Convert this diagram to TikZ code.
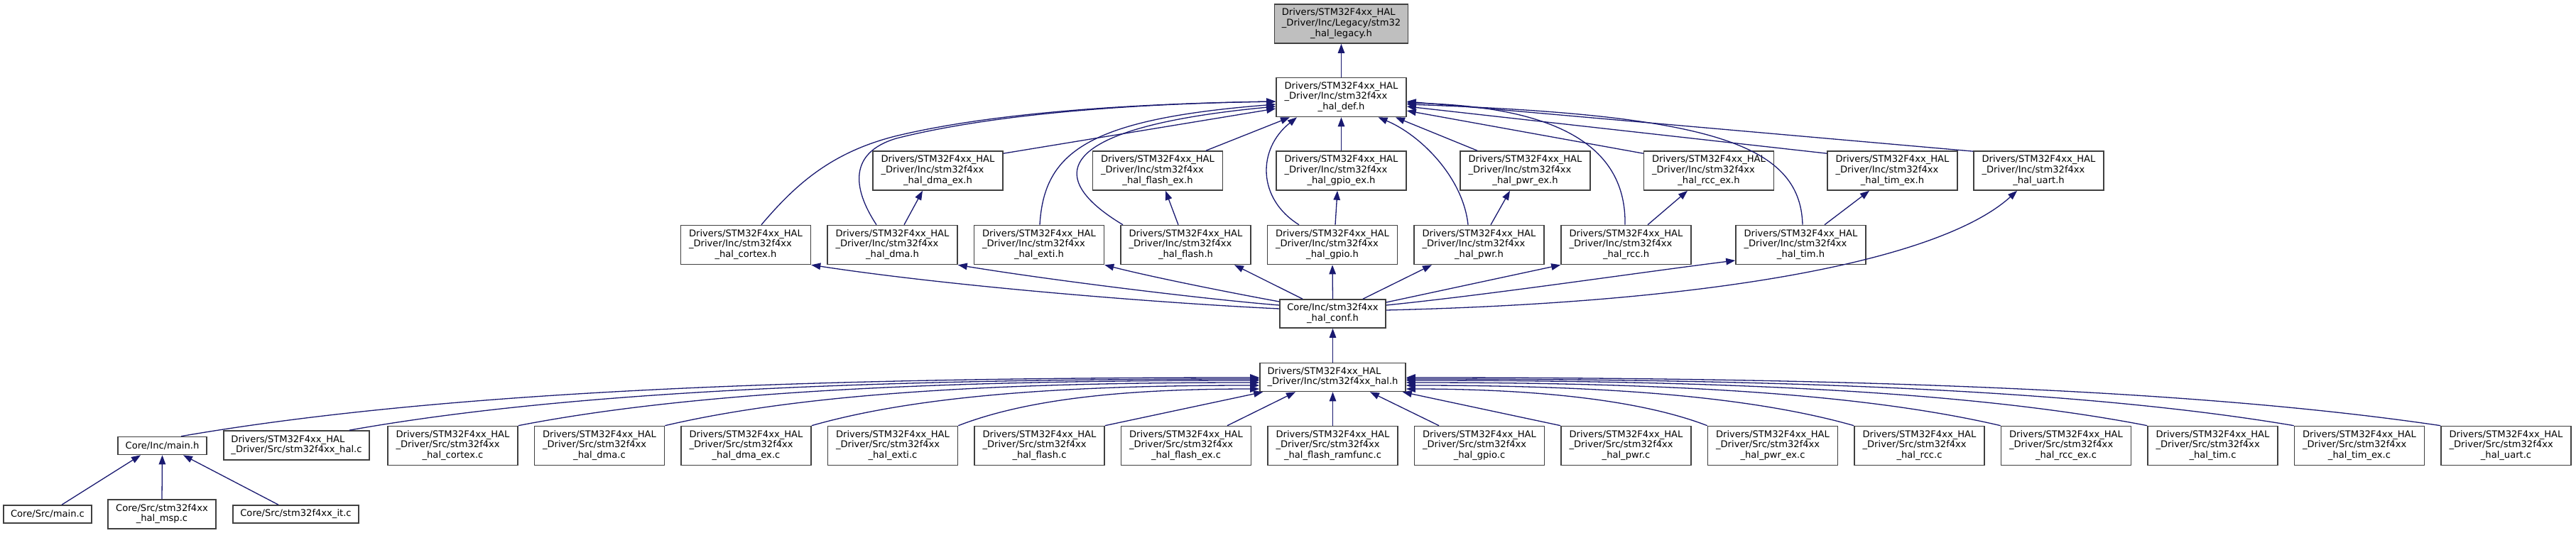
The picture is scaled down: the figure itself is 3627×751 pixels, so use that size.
\documentclass[tikz,border=0pt]{standalone}
\usepackage{fontspec}
\setmainfont{DejaVu Sans}
\usetikzlibrary{arrows.meta,calc}
\definecolor{edgeblue}{HTML}{191970}
\definecolor{curgray}{HTML}{BFBFBF}
\newcommand{\LblTwo}[2]{\begin{tabular}{@{}l@{}}#1\\\multicolumn{1}{@{}c@{}}{#2}\end{tabular}}
\newcommand{\LblThree}[3]{\begin{tabular}{@{}l@{}}#1\\#2\\\multicolumn{1}{@{}c@{}}{#3}\end{tabular}}
\newcommand{\IncLbl}[1]{\LblThree{Drivers/STM32F4xx\_HAL}{\_Driver/Inc/stm32f4xx}{#1}}
\newcommand{\SrcLbl}[1]{\LblThree{Drivers/STM32F4xx\_HAL}{\_Driver/Src/stm32f4xx}{#1}}
\begin{document}
\begin{tikzpicture}[x=1pt,y=-1pt,
  box/.style={draw=black!75, line width=1.6pt, fill=white, inner sep=0pt,
    minimum width=183pt, minimum height=55pt,
    font=\fontsize{13.1}{14.7}\selectfont},
  edge/.style={draw=edgeblue, line width=1.3pt, -{Triangle[length=13pt,width=9.5pt]}}]
\useasboundingbox (0,0) rectangle (3627,751);
% row 0/1
\node[box, fill=curgray, minimum width=188pt] (legacy) at (1888.5,33.5) {\LblThree{Drivers/STM32F4xx\_HAL}{\_Driver/Inc/Legacy/stm32}{\_hal\_legacy.h}};
\node[box] (haldef) at (1888.5,137) {\IncLbl{\_hal\_def.h}};
% row 2
\node[box] (dmaex) at (1320.5,240.5) {\IncLbl{\_hal\_dma\_ex.h}};
\node[box] (flashex) at (1630,240.5) {\IncLbl{\_hal\_flash\_ex.h}};
\node[box] (gpioex) at (1888.5,240.5) {\IncLbl{\_hal\_gpio\_ex.h}};
\node[box] (pwrex) at (2147.5,240.5) {\IncLbl{\_hal\_pwr\_ex.h}};
\node[box] (rccex) at (2406,240.5) {\IncLbl{\_hal\_rcc\_ex.h}};
\node[box] (timex) at (2664.5,240.5) {\IncLbl{\_hal\_tim\_ex.h}};
\node[box] (uarth) at (2870.5,240.5) {\IncLbl{\_hal\_uart.h}};
% row 3
\node[box] (cortexh) at (1050,345) {\IncLbl{\_hal\_cortex.h}};
\node[box] (dmah) at (1256.5,345) {\IncLbl{\_hal\_dma.h}};
\node[box] (extih) at (1463,345) {\IncLbl{\_hal\_exti.h}};
\node[box] (flashh) at (1669.5,345) {\IncLbl{\_hal\_flash.h}};
\node[box] (gpioh) at (1876,345) {\IncLbl{\_hal\_gpio.h}};
\node[box] (pwrh) at (2082.5,345) {\IncLbl{\_hal\_pwr.h}};
\node[box] (rcch) at (2289.5,345) {\IncLbl{\_hal\_rcc.h}};
\node[box] (timh) at (2535.5,345) {\IncLbl{\_hal\_tim.h}};
% conf / hal
\node[box, minimum width=149pt, minimum height=40pt] (confh) at (1876.5,442) {\LblTwo{Core/Inc/stm32f4xx}{\_hal\_conf.h}};
\node[box, minimum width=205pt, minimum height=40pt] (halh) at (1876.5,531.5) {\LblTwo{Drivers/STM32F4xx\_HAL}{\_Driver/Inc/stm32f4xx\_hal.h}};
% leaves
\node[box, minimum width=125pt, minimum height=25pt] (mainh) at (228.5,628) {Core/Inc/main.h};
\node[box, minimum width=205pt, minimum height=41pt] (halc) at (417.5,627.5) {\LblTwo{Drivers/STM32F4xx\_HAL}{\_Driver/Src/stm32f4xx\_hal.c}};
\node[box] (cortexc) at (637.5,628) {\SrcLbl{\_hal\_cortex.c}};
\node[box] (dmac) at (844,628) {\SrcLbl{\_hal\_dma.c}};
\node[box] (dmaexc) at (1050.5,628) {\SrcLbl{\_hal\_dma\_ex.c}};
\node[box] (extic) at (1257,628) {\SrcLbl{\_hal\_exti.c}};
\node[box] (flashc) at (1463.5,628) {\SrcLbl{\_hal\_flash.c}};
\node[box] (flashexc) at (1670,628) {\SrcLbl{\_hal\_flash\_ex.c}};
\node[box] (ramfuncc) at (1876.5,628) {\SrcLbl{\_hal\_flash\_ramfunc.c}};
\node[box] (gpioc) at (2083,628) {\SrcLbl{\_hal\_gpio.c}};
\node[box] (pwrc) at (2289.5,628) {\SrcLbl{\_hal\_pwr.c}};
\node[box] (pwrexc) at (2496,628) {\SrcLbl{\_hal\_pwr\_ex.c}};
\node[box] (rccc) at (2702.5,628) {\SrcLbl{\_hal\_rcc.c}};
\node[box] (rccexc) at (2909,628) {\SrcLbl{\_hal\_rcc\_ex.c}};
\node[box] (timc) at (3115.5,628) {\SrcLbl{\_hal\_tim.c}};
\node[box] (timexc) at (3322,628) {\SrcLbl{\_hal\_tim\_ex.c}};
\node[box] (uartc) at (3528.5,628) {\SrcLbl{\_hal\_uart.c}};
% bottom row
\node[box, minimum width=124pt, minimum height=25pt] (mainc) at (67,724.5) {Core/Src/main.c};
\node[box, minimum width=152pt, minimum height=41pt] (mspc) at (228,724.5) {\LblTwo{Core/Src/stm32f4xx}{\_hal\_msp.c}};
\node[box, minimum width=177pt, minimum height=25pt] (itc) at (416.5,724.5) {Core/Src/stm32f4xx\_it.c};

% edges to legacy / hal_def
\draw[edge] (haldef.north) -- (legacy.south);
\draw[edge] ([yshift=-4pt]dmaex.north east) -- ([yshift=-16pt]haldef.west);
\draw[edge] ([xshift=68pt]flashex.north) -- ([xshift=-72.5pt]haldef.south);
\draw[edge] (gpioex.north) -- (haldef.south);
\draw[edge] ([xshift=-67.5pt]pwrex.north) -- ([xshift=76.5pt]haldef.south);
\draw[edge] ([yshift=-4pt]rccex.north west) -- ([yshift=-19pt]haldef.east);
\draw[edge] ([yshift=-4pt]timex.north west) -- ([yshift=-13pt]haldef.east);
\draw[edge] ([yshift=-1pt]uarth.north west) -- ([yshift=-6pt]haldef.east);
\draw[edge] ([xshift=22pt]cortexh.north) .. controls (1120,260) and (1170,215) .. (1260,192) .. controls (1400,158) and (1600,146) .. ([yshift=-6pt]haldef.west);
\draw[edge] ([xshift=-22.5pt]dmah.north) .. controls (1200,265) and (1195,215) .. (1262,195) .. controls (1400,160) and (1600,146) .. ([yshift=-6pt]haldef.west);
\draw[edge] ([xshift=1pt]extih.north) .. controls (1470,215) and (1530,168) .. ([yshift=-10pt]haldef.west);
\draw[edge] ([xshift=-88.5pt]flashh.north) .. controls (1470,250) and (1480,180) .. ([yshift=-13pt]haldef.west);
\draw[edge] ([xshift=-47pt]gpioh.north) .. controls (1770,280) and (1770,210) .. ([xshift=-62.5pt]haldef.south);
\draw[edge] ([xshift=-15.5pt]pwrh.north) .. controls (2060,250) and (2000,190) .. ([xshift=52pt]haldef.south);
\draw[edge] ([xshift=-1.5pt]rcch.north) .. controls (2290,210) and (2200,150) .. ([yshift=-8pt]haldef.east);
\draw[edge] ([xshift=2.5pt]timh.north) .. controls (2535,200) and (2400,162) .. ([yshift=-10pt]haldef.east);
% row 3 -> row 2
\draw[edge] ([xshift=16.5pt]dmah.north) -- ([xshift=-21.5pt]dmaex.south);
\draw[edge] ([xshift=-10.5pt]flashh.north) -- ([xshift=11pt]flashex.south);
\draw[edge] ([xshift=4pt]gpioh.north) -- ([xshift=-5.5pt]gpioex.south);
\draw[edge] ([xshift=16.5pt]pwrh.north) -- ([xshift=-21.5pt]pwrex.south);
\draw[edge] ([xshift=30.5pt]rcch.north) -- ([xshift=-30pt]rccex.south);
\draw[edge] ([xshift=33.5pt]timh.north) -- ([xshift=-32.5pt]timex.south);
% conf -> headers
\draw[edge] ([yshift=7pt]confh.west) .. controls (1650,428) and (1350,405) .. (cortexh.south east);
\draw[edge] ([yshift=12pt]confh.west) .. controls (1700,422) and (1480,395) .. (dmah.south east);
\draw[edge] ([yshift=17pt]confh.west) .. controls (1730,412) and (1620,390) .. (extih.south east);
\draw[edge] ([xshift=-42.5pt]confh.north) -- ([xshift=68.5pt]flashh.south);
\draw[edge] (confh.north) -- (gpioh.south);
\draw[edge] ([xshift=42.5pt]confh.north) -- ([xshift=-66.5pt]pwrh.south);
\draw[edge] ([yshift=16pt]confh.east) -- (rcch.south west);
\draw[edge] ([yshift=12pt]confh.east) .. controls (2100,415) and (2300,385) .. ([yshift=-22pt]timh.west);
\draw[edge] ([yshift=5pt]confh.east) .. controls (2450,425) and (2740,360) .. ([xshift=-30.5pt]uarth.south);
% hal.h -> conf
\draw[edge] (halh.north) -- (confh.south);
% leaves -> hal.h
\draw[edge] ([xshift=26.5pt]mainh.north) .. controls (635,549) and (1166,532) .. ([yshift=-0.5pt]halh.west);
\draw[edge] ([xshift=-29pt]halc.north east) .. controls (812,549) and (1261,534) .. ([yshift=-2.5pt]halh.west);
\draw[edge] (cortexc.north east) .. controls (990,549) and (1356,536) .. ([yshift=-4.5pt]halh.west);
\draw[edge] (dmac.north east) .. controls (1144,551) and (1438,539) .. ([yshift=-7.5pt]halh.west);
\draw[edge] (dmaexc.north east) .. controls (1299,555) and (1521,543) .. ([yshift=-11.5pt]halh.west);
\draw[edge] (extic.north east) .. controls (1454,559) and (1603,548) .. ([yshift=-16.5pt]halh.west);
\draw[edge] (flashc.north east) -- ([xshift=5pt]halh.south west);
\draw[edge] ([xshift=58pt]flashexc.north) -- ([xshift=-52.5pt]halh.south);
\draw[edge] (ramfuncc.north) -- (halh.south);
\draw[edge] ([xshift=-57pt]gpioc.north) -- ([xshift=52.5pt]halh.south);
\draw[edge] (pwrc.north west) -- ([xshift=-5pt]halh.south east);
\draw[edge] (pwrexc.north west) .. controls (2298,559) and (2134,548) .. ([yshift=-16.5pt]halh.east);
\draw[edge] (rccc.north west) .. controls (2453,555) and (2232,543) .. ([yshift=-11.5pt]halh.east);
\draw[edge] (rccexc.north west) .. controls (2608,551) and (2314,539) .. ([yshift=-7.5pt]halh.east);
\draw[edge] (timc.north west) .. controls (2763,549) and (2397,536) .. ([yshift=-4.5pt]halh.east);
\draw[edge] (timexc.north west) .. controls (2918,547) and (2480,534) .. ([yshift=-2.5pt]halh.east);
\draw[edge] (uartc.north west) .. controls (3073,546) and (2562,532) .. ([yshift=-0.5pt]halh.east);
% main
\draw[edge] ([xshift=20pt]mainc.north) -- ([xshift=-30.5pt]mainh.south);
\draw[edge] (mspc.north) -- (mainh.south);
\draw[edge] ([xshift=-24.5pt]itc.north) -- ([xshift=29.5pt]mainh.south);
\end{tikzpicture}
\end{document}
